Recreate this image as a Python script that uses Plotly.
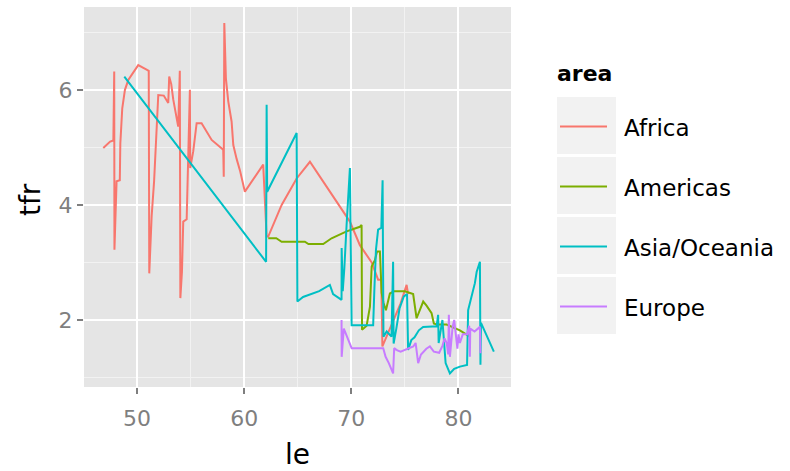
import plotly.graph_objects as go

# ---------------- data ----------------
areas = ["Africa", "Americas", "Asia/Oceania", "Europe"]
colors = ["#F8766D", "#7CAE00", "#00BFC4", "#C77CFF"]

africa_le = [46.86, 47.5, 47.8, 47.88, 47.9, 48.0, 48.1, 48.4, 48.45, 48.63, 48.88, 49.19, 49.5,
             50.12, 50.9, 51.1, 51.15, 51.37, 51.6, 51.77, 51.99, 52.5, 52.92, 53.01, 53.2, 53.39,
             53.6, 53.85, 54.0, 54.05, 54.2, 54.32, 54.64, 54.94, 54.97, 55.25, 55.57, 56.03, 56.97,
             58.05, 58.1, 58.15, 58.3, 58.52, 58.83, 58.99, 59.3, 59.61, 60.07, 61.78, 62.1, 62.25,
             63.5, 64.9, 66.14, 69.87, 70.8, 71.9, 72.5, 72.8, 72.9, 73.5, 74.0, 74.6, 75.16, 75.3]
africa_tfr = [4.99, 5.10, 5.12, 6.32, 3.22, 3.83, 4.41, 4.43, 5.07, 5.68, 6.00, 6.17, 6.26,
              6.43, 6.35, 6.33, 2.81, 3.80, 4.41, 5.04, 5.91, 5.90, 5.77, 6.23, 6.10, 5.83,
              5.62, 5.36, 6.33, 2.38, 2.84, 3.71, 3.75, 6.00, 4.64, 4.93, 5.42, 5.42, 5.13,
              4.96, 4.49, 7.16, 6.20, 5.80, 5.45, 5.04, 4.80, 4.60, 4.23, 4.70, 3.45, 3.45,
              4.00, 4.46, 4.75, 3.71, 3.30, 3.00, 2.70, 2.70, 1.54, 1.80, 2.00, 2.29, 2.61, 2.45]

americas_le = [62.25, 63.0, 63.5, 65.67, 66.0, 67.38, 68.16, 69.56, 70.2, 70.8, 70.96, 71.0,
               71.43, 71.74, 71.9, 72.2, 72.4, 72.67, 72.83, 73.0, 73.23, 73.6, 74.0, 75.0,
               75.77, 76.09, 76.71, 77.02, 77.49, 77.7, 77.96, 78.89, 80.13, 80.6, 81.06]
americas_tfr = [3.42, 3.42, 3.36, 3.36, 3.32, 3.32, 3.42, 3.54, 3.58, 3.62, 3.65, 1.83,
                1.90, 2.23, 2.93, 3.04, 3.19, 3.19, 2.47, 2.30, 2.17, 2.46, 2.50, 2.50,
                2.45, 2.03, 2.32, 2.25, 2.12, 1.94, 1.92, 1.92, 1.82, 1.77, 1.71]

asia_le = [48.82, 62.05, 62.1, 62.15, 64.9, 64.97, 65.5, 67.0, 68.0, 68.3, 69.09, 69.1, 69.2,
           69.35, 69.56, 69.71, 69.87, 70.03, 72.04, 72.15, 72.3, 72.5, 72.8, 72.92, 73.0,
           73.3, 73.75, 73.9, 73.95, 74.2, 74.5, 74.9, 75.2, 75.3, 75.6, 75.9, 76.3, 76.7,
           77.96, 78.1, 78.15, 78.5, 78.8, 79.2, 79.6, 80.13, 80.8, 80.9, 81.2, 81.53, 81.7,
           82.0, 82.05, 82.1, 83.3]
asia_tfr = [6.23, 3.01, 5.74, 4.23, 5.25, 2.32, 2.40, 2.50, 2.61, 2.45, 2.35, 3.25, 2.50,
            2.90, 3.65, 4.26, 4.64, 1.91, 1.91, 2.52, 3.22, 3.57, 3.60, 4.43, 1.71,
            1.80, 1.71, 3.01, 1.59, 1.85, 2.20, 2.41, 2.45, 1.48, 1.65, 1.70, 1.82, 1.88,
            1.89, 2.09, 1.60, 2.00, 1.25, 1.07, 1.15, 1.19, 1.22, 2.17, 2.41, 2.64, 2.84,
            3.01, 1.22, 1.95, 1.45]

europe_le = [69.09, 69.1, 69.3, 69.6, 69.85, 70.03, 72.98, 73.2, 73.5, 73.9, 74.0, 74.3, 74.6,
             75.2, 75.78, 76.0, 76.24, 76.5, 77.0, 77.33, 77.7, 78.2, 78.5, 78.7, 78.9, 79.04,
             79.1, 79.2, 79.3, 79.45, 79.6, 79.75, 79.9, 80.0, 80.13, 80.4, 80.8, 81.0, 81.06,
             81.1, 81.5, 82.0, 82.05]
europe_tfr = [2.00, 1.36, 1.85, 1.70, 1.57, 1.51, 1.51, 1.36, 1.25, 1.07, 1.51, 1.47, 1.45,
              1.50, 1.54, 1.60, 1.25, 1.40, 1.50, 1.54, 1.45, 1.43, 1.55, 1.68, 1.60, 1.40,
              2.09, 1.36, 1.60, 1.88, 2.00, 1.70, 1.50, 1.75, 1.60, 1.75, 1.75, 1.90, 1.36,
              1.85, 1.80, 1.88, 1.42]

x_ticks = [50, 60, 70, 80]
y_ticks = [2, 4, 6]

series_le = [africa_le, americas_le, asia_le, europe_le]
series_tfr = [africa_tfr, americas_tfr, asia_tfr, europe_tfr]

# ---------------- layout geometry (pixels) ----------------
W, H = 790, 471
L, R, T, B = 84, 511, 7, 387
pw, ph = R - L, B - T

def px_x(p):
    return (p - L) / pw

def px_y(p):
    return (B - p) / ph

FONT = "DejaVu Sans"

fig = go.Figure()
for name, col, xs, ys in zip(areas, colors, series_le, series_tfr):
    fig.add_trace(go.Scatter(x=xs, y=ys, mode="lines", name=name,
                             line=dict(color=col, width=2), showlegend=False))

axis_common = dict(
    showgrid=True, gridcolor="white", gridwidth=2.4,
    zeroline=False, showline=False,
    ticks="outside", ticklen=6, tickwidth=2, tickcolor="#7F7F7F",
    tickfont=dict(family=FONT, size=22, color="#7F7F7F"),
)

fig.update_layout(
    width=W, height=H,
    margin=dict(l=L, r=W - R, t=T, b=H - B),
    paper_bgcolor="white", plot_bgcolor="#E5E5E5",
    xaxis=dict(range=[45.06, 84.9], tickvals=x_ticks, ticklabelstandoff=6,
               minor=dict(dtick=5, tick0=45, showgrid=True, gridcolor="#F2F2F2", gridwidth=1.2, ticks=""),
               **axis_common),
    yaxis=dict(range=[0.835, 7.44], tickvals=y_ticks,
               minor=dict(dtick=2, tick0=1, showgrid=True, gridcolor="#F2F2F2", gridwidth=1.2, ticks=""),
               **axis_common),
    showlegend=False,
)

annotations = [
    dict(text="le", x=px_x(297), y=px_y(454), xref="paper", yref="paper",
         showarrow=False, font=dict(family=FONT, size=28, color="black"),
         xanchor="center", yanchor="middle"),
    dict(text="tfr", x=px_x(30), y=px_y(200), xref="paper", yref="paper",
         showarrow=False, textangle=-90, font=dict(family=FONT, size=28, color="black"),
         xanchor="center", yanchor="middle"),
    dict(text="<b>area</b>", x=px_x(555), y=px_y(73), xref="paper", yref="paper",
         showarrow=False, font=dict(family=FONT, size=22, color="black"),
         xanchor="left", yanchor="middle"),
]

shapes = []
box_top = [97, 157, 217, 277]
box_h = 57
for i, (name, col) in enumerate(zip(areas, colors)):
    top = box_top[i]
    shapes.append(dict(type="rect", xref="paper", yref="paper",
                       x0=px_x(557), x1=px_x(616), y0=px_y(top + box_h), y1=px_y(top),
                       fillcolor="#F2F2F2", line=dict(width=0), layer="below"))
    ymid = top + box_h / 2 + 1
    shapes.append(dict(type="line", xref="paper", yref="paper",
                       x0=px_x(560), x1=px_x(607), y0=px_y(ymid), y1=px_y(ymid),
                       line=dict(color=col, width=2)))
    annotations.append(dict(text=name, x=px_x(622), y=px_y(ymid + 1), xref="paper", yref="paper",
                            showarrow=False, font=dict(family=FONT, size=23, color="black"),
                            xanchor="left", yanchor="middle"))

fig.update_layout(annotations=annotations, shapes=shapes)
fig.write_html("out.html", config={"displayModeBar": False},
               post_script="document.body.style.margin='0';document.body.style.padding='0';")
